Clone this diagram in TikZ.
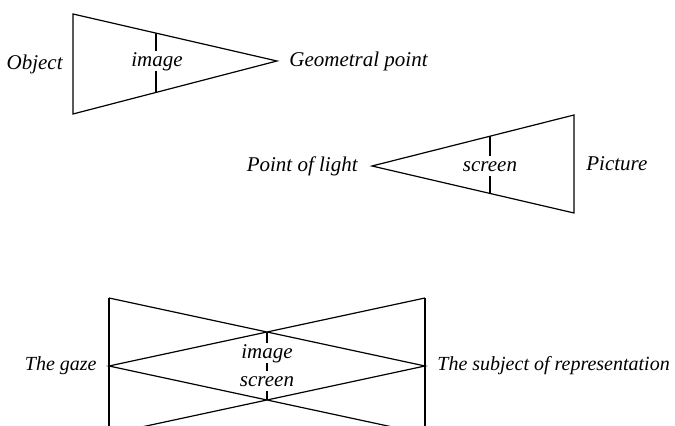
\documentclass[tikz,border=0pt]{standalone}
\usepackage{fontspec}
\setmainfont{Liberation Serif}
\usetikzlibrary{calc,positioning}
\begin{document}
\begin{tikzpicture}[x=0.5pt,y=-0.5pt,
		every node/.style={font=\itshape\fontsize{10.5}{12}\selectfont},
		lbl/.style={inner sep=1pt},
		small/.style={font=\itshape\fontsize{10}{12}\selectfont},
		fw/.style={fill=white, inner sep=1pt, text height=1.5ex, text depth=0.25ex},
		edge/.style={line width=0.6pt},
	]
	\clip (0,0) rectangle (675,426);

	% object - image - geometral point
	\coordinate (O1) at (73,14); \coordinate (O2) at (73,114);
	\coordinate (GP) at (277,61);
	\coordinate (I1) at ($(O1)!0.407!(GP)$); \coordinate (I2) at ($(O2)!0.407!(GP)$);
	\draw[edge] (O1) -- (GP) -- (O2) -- cycle;
	\draw[edge] (I1) -- (I2);
	\node[fw] (image1) at (157,61) {image};
	\node[lbl, left=4pt] (object) at ($(O1)!0.5!(O2)$) {Object};
	\node[lbl, right=5pt] (geom) at (GP) {Geometral point};

	% point of light - screen - picture
	\coordinate (PL) at (372,166);
	\coordinate (P1) at (574,115); \coordinate (P2) at (574,213);
	\coordinate (S1) at ($(PL)!0.584!(P1)$); \coordinate (S2) at ($(PL)!0.584!(P2)$);
	\draw[edge] (PL) -- (P1) -- (P2) -- cycle;
	\draw[edge] (S1) -- (S2);
	\node[fw] (screen1) at (490,166) {screen};
	\node[lbl, left=6pt] (light) at (PL) {Point of light};
	\node[lbl, right=5pt] (picture) at ($(P1)!0.5!(P2)$) {Picture};

	% the gaze - image/screen - subject of representation
	\coordinate (L1) at (109,298); \coordinate (LM) at (109,366); \coordinate (L2) at (109,434);
	\coordinate (R1) at (425,298); \coordinate (RM) at (425,366); \coordinate (R2) at (425,434);
	\coordinate (X1) at (267,332); \coordinate (X2) at (267,400);
	\draw[edge] (L1) -- (L2) (R1) -- (R2);
	\draw[edge] (L1) -- (RM) -- (L2)
		(R1) -- (LM) -- (R2);
	\draw[edge] (X1) -- (X2);
	\node[fw] (image2) at (267,353) {image};
	\node[fw] (screen2) at (267,381) {screen};
	\node[lbl, small, left=5pt] (gaze) at (LM) {The gaze};
	\node[lbl, small, right=5pt] (subject) at (RM) {The subject of representation};
\end{tikzpicture}
\end{document}
